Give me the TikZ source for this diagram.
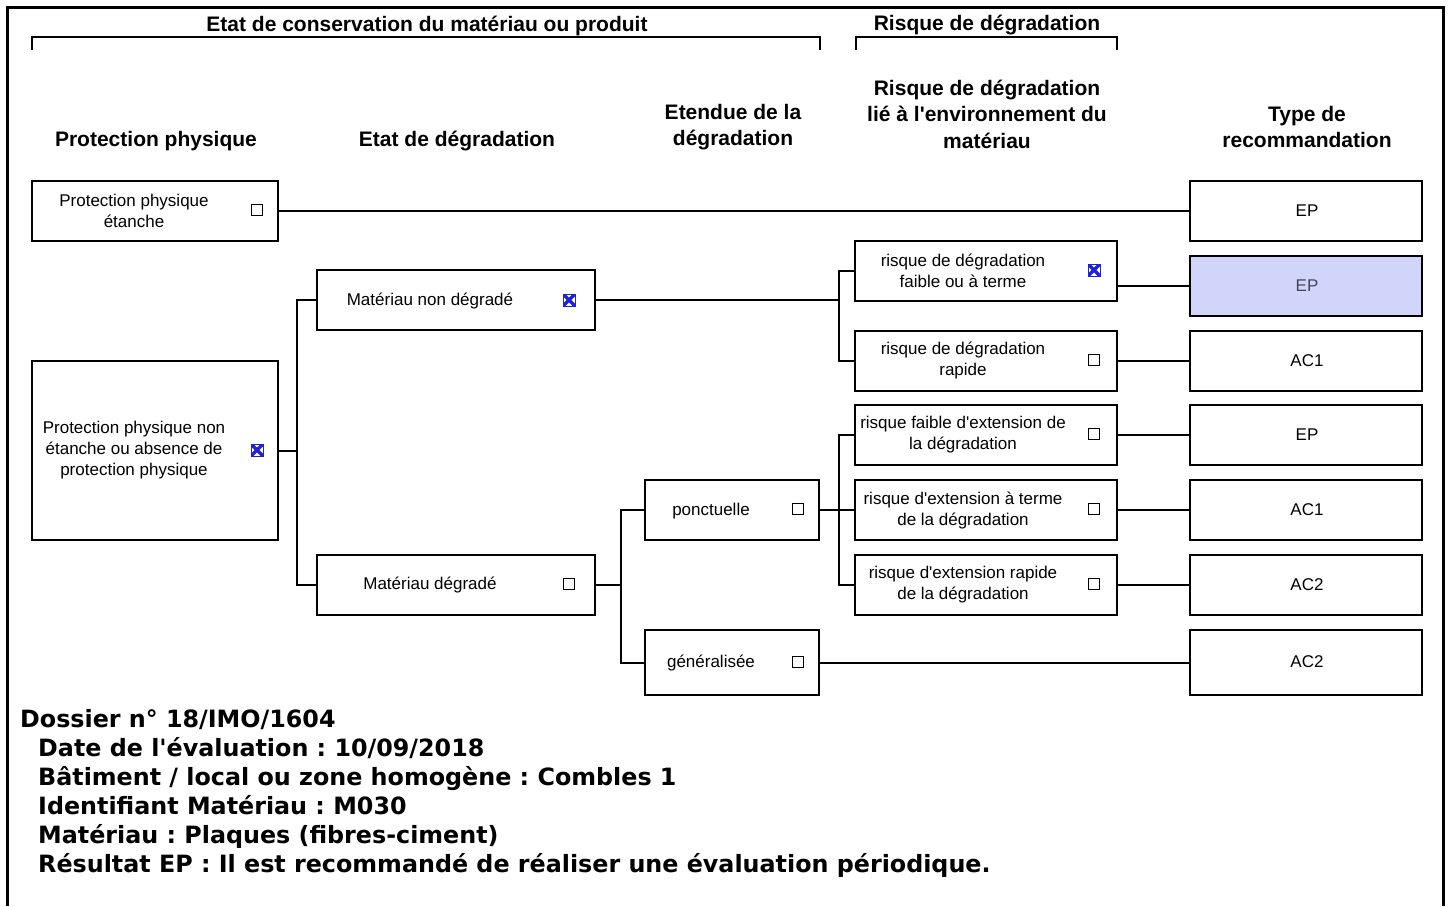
\documentclass[tikz,border=0pt]{standalone}
\usepackage{fontspec}
\setmainfont{Liberation Sans}
\newfontfamily\lsans{Liberation Sans}
\newfontfamily\vfont{DejaVu Sans}
\usetikzlibrary{calc}
\definecolor{selfill}{HTML}{D2D5FA}
\definecolor{seltext}{HTML}{45465E}
\definecolor{chkblue}{HTML}{1F22D6}
\tikzset{
  box/.style={draw, line width=2pt, rectangle, inner sep=0pt, outer sep=0pt},
  txt/.style={font=\lsans\frenchspacing\fontsize{17}{21}\selectfont, align=center, inner sep=0pt},
  hdr/.style={font=\lsans\frenchspacing\fontsize{21}{26.5}\selectfont\bfseries, align=center, inner sep=0pt},
  info/.style={font=\vfont\frenchspacing\fontsize{23.8}{29}\selectfont\bfseries, anchor=base west, inner sep=0pt},
  conn/.style={line width=2pt},
  brk/.style={line width=2pt},
  cbox/.style={draw, line width=1.3pt, rectangle, minimum size=11pt, inner sep=0pt},
  cboxx/.style={draw=chkblue, line width=1pt, rectangle, minimum size=12pt, inner sep=0pt,
    path picture={\draw[chkblue, line width=3.4pt]
      (path picture bounding box.north west) -- (path picture bounding box.south east)
      (path picture bounding box.north east) -- (path picture bounding box.south west);}},
}
\begin{document}
\begin{tikzpicture}[x=1pt, y=-1pt]
\useasboundingbox (0,0) rectangle (1451,906);
\fill[white] (0,0) rectangle (1451,906);
% outer frame
\draw[line width=3pt] (7,906) -- (7,7) -- (1443,7) -- (1443,906);

% top brackets
\draw[brk] (32,50) -- (32,37) -- (820,37) -- (820,50);
\draw[brk] (856,50) -- (856,37) -- (1117,37) -- (1117,50);
\node[hdr] (h1) at (427,25.5) {Etat de conservation du matériau ou produit};
\node[hdr] (h2) at (987,25.5) {Risque de dégradation};

% column headers
\node[hdr] (c1) at (156,141) {Protection physique};
\node[hdr] (c2) at (457,141) {Etat de dégradation};
\node[hdr] (c3) at (733,127) {Etendue de la\\dégradation};
\node[hdr] (c4) at (987,114) {Risque de dégradation\\lié à l'environnement du\\matériau};
\node[hdr] (c5) at (1307,127) {Type de\\recommandation};

% column 1
\node[box, minimum width=246pt, minimum height=60pt] (b1) at (155,211) {};
\node[txt] (b1t) at (134,210.5) {Protection physique\\étanche};
\node[cbox] (b1c) at (257,210) {};
\node[box, minimum width=246pt, minimum height=179pt] (b2) at (155,450.5) {};
\node[txt] (b2t) at (134,450) {Protection physique non\\étanche ou absence de\\protection physique};
\node[cboxx] (b2c) at (257,450) {};

% column 2
\node[box, minimum width=278pt, minimum height=60pt] (b3) at (456,300) {};
\node[txt] (b3t) at (430,301) {Matériau non dégradé};
\node[cboxx] (b3c) at (569,300) {};
\node[box, minimum width=278pt, minimum height=60pt] (b4) at (456,584.5) {};
\node[txt] (b4t) at (430,585) {Matériau dégradé};
\node[cbox] (b4c) at (569,584) {};

% column 3
\node[box, minimum width=174pt, minimum height=60pt] (b5) at (732,510) {};
\node[txt] (b5t) at (711,511) {ponctuelle};
\node[cbox] (b5c) at (798,509) {};
\node[box, minimum width=174pt, minimum height=65pt] (b6) at (732,662.5) {};
\node[txt] (b6t) at (711,663) {généralisée};
\node[cbox] (b6c) at (798,662) {};

% column 4
\node[box, minimum width=262pt, minimum height=60pt] (r1) at (986,271) {};
\node[txt] (r1t) at (963,270.5) {risque de dégradation\\faible ou à terme};
\node[cboxx] (r1c) at (1094,270) {};
\node[box, minimum width=262pt, minimum height=60pt] (r2) at (986,361) {};
\node[txt] (r2t) at (963,360.5) {risque de dégradation\\rapide};
\node[cbox] (r2c) at (1094,360) {};
\node[box, minimum width=262pt, minimum height=60pt] (r3) at (986,435) {};
\node[txt] (r3t) at (963,435) {risque faible d'extension de\\la dégradation};
\node[cbox] (r3c) at (1094,434) {};
\node[box, minimum width=262pt, minimum height=60pt] (r4) at (986,510) {};
\node[txt] (r4t) at (963,510) {risque d'extension à terme\\de la dégradation};
\node[cbox] (r4c) at (1094,509) {};
\node[box, minimum width=262pt, minimum height=60pt] (r5) at (986,585) {};
\node[txt] (r5t) at (963,584.5) {risque d'extension rapide\\de la dégradation};
\node[cbox] (r5c) at (1094,584) {};

% column 5
\node[box, minimum width=232pt, minimum height=60pt] (t0) at (1306,211) {};
\node[txt] (t0t) at (1307,211) {EP};
\node[box, fill=selfill, minimum width=232pt, minimum height=60pt] (t1) at (1306,286) {};
\node[txt, text=seltext] (t1t) at (1307,286) {EP};
\node[box, minimum width=232pt, minimum height=60pt] (t2) at (1306,361) {};
\node[txt] (t2t) at (1307,360.5) {AC1};
\node[box, minimum width=232pt, minimum height=60pt] (t3) at (1306,435) {};
\node[txt] (t3t) at (1307,435) {EP};
\node[box, minimum width=232pt, minimum height=60pt] (t4) at (1306,510) {};
\node[txt] (t4t) at (1307,509.5) {AC1};
\node[box, minimum width=232pt, minimum height=60pt] (t5) at (1306,585) {};
\node[txt] (t5t) at (1307,584.5) {AC2};
\node[box, minimum width=232pt, minimum height=65pt] (t6) at (1306,662.5) {};
\node[txt] (t6t) at (1307,662) {AC2};

% junction coordinates
\coordinate (j1) at (297,0);
\coordinate (j2) at (839,0);
\coordinate (j3) at (621,0);

% connectors
\draw[conn] (b1.east) -- (t0.west);
\draw[conn] (b2.east) -- (b2.east -| j1);
\draw[conn] (b3.west) -- (b3.west -| j1) -- (b4.west -| j1) -- (b4.west);
\draw[conn] (b3.east) -- (b3.east -| j2);
\draw[conn] (r1.west) -- (r1.west -| j2) -- (r2.west -| j2) -- (r2.west);
\draw[conn] (b4.east) -- (b4.east -| j3);
\draw[conn] (b5.west) -- (b5.west -| j3) -- (b6.west -| j3) -- (b6.west);
\draw[conn] (b5.east) -- (b5.east -| j2);
\draw[conn] (r3.west) -- (r3.west -| j2) -- (r5.west -| j2) -- (r5.west);
\draw[conn] (r4.west) -- (r4.west -| j2);
\draw[conn] (b6.east) -- (t6.west);
\draw[conn] (t1.west -| r1.east) -- (t1.west);
\draw[conn] (r2.east) -- (t2.west);
\draw[conn] (r3.east) -- (t3.west);
\draw[conn] (r4.east) -- (t4.west);
\draw[conn] (r5.east) -- (t5.west);

% info text
\node[info] (i1) at (20,727.5) {Dossier n° 18/IMO/1604};
\node[info] (i2) at (38,756.5) {Date de l'évaluation : 10/09/2018};
\node[info] (i3) at (38,785.5) {Bâtiment / local ou zone homogène : Combles 1};
\node[info] (i4) at (38,814.5) {Identifiant Matériau : M030};
\node[info] (i5) at (38,843.5) {Matériau : Plaques (fibres-ciment)};
\node[info] (i6) at (38,872.5) {Résultat EP : Il est recommandé de réaliser une évaluation périodique.};
\end{tikzpicture}
\end{document}
